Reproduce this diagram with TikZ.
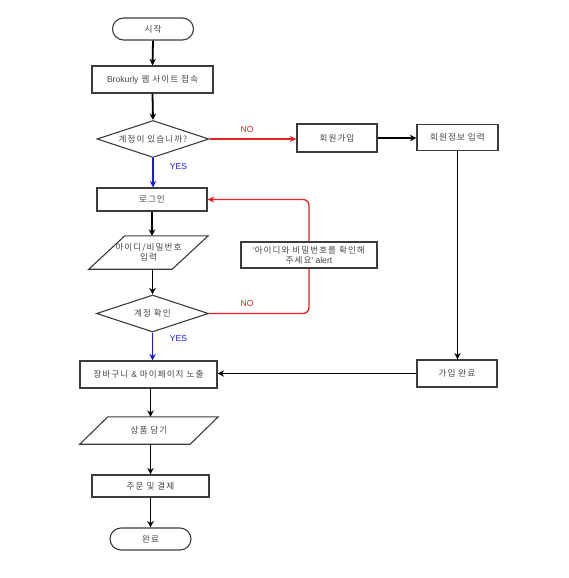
\documentclass[tikz,border=0pt]{standalone}
\usepackage{fontspec}
\newfontfamily\krfont{Noto Sans CJK KR}[LetterSpace=12]
\newfontfamily\latfont{Liberation Sans}
\usetikzlibrary{shapes.geometric,arrows.meta,backgrounds}
\definecolor{nored}{RGB}{232,32,32}
\definecolor{yesblue}{RGB}{25,25,230}
\definecolor{edgec}{RGB}{60,60,60}
\definecolor{txtc}{RGB}{70,70,70}
\begin{document}
\begin{tikzpicture}[x=1pt,y=-1pt,
  every node/.style={font=\krfont\fontsize{8.6}{9.5}\selectfont, text=txtc, align=center},
  procbox/.style={draw=edgec, line width=1.2pt, fill=white, inner sep=0pt},
  termbox/.style={draw=edgec, line width=1.1pt, fill=white, inner sep=0pt, minimum width=81pt, minimum height=22pt, rounded corners=11pt},
  decbox/.style={draw=edgec, line width=1.1pt, fill=white, diamond, aspect=3, inner sep=0pt, minimum width=112pt, minimum height=37pt},
  iobox/.style={inner sep=0pt},
  arr/.style={draw=black, line width=1.8pt, -{Stealth[length=6.5pt,width=6.5pt]}},
  yesarr/.style={draw=yesblue, line width=1.8pt, -{Stealth[length=6.5pt,width=6.5pt]}},
  noarr/.style={draw=nored, line width=1.3pt, -{Stealth[length=6.5pt,width=6pt]}},
  nolab/.style={text=nored, font=\latfont\fontsize{8.6}{9.5}\selectfont},
  yeslab/.style={text=yesblue, font=\latfont\fontsize{8.6}{9.5}\selectfont}
]
\useasboundingbox (0,0) rectangle (568,578);

% left column
\node[termbox] (start) at (153,29) {시작};
\node[procbox, minimum width=121pt, minimum height=27pt] (web) at (152.5,79.5) {{\latfont Brokurly} 웹 사이트 접속};
\node[decbox] (d1) at (153,139) {계정이 있습니까?};
\node[procbox, minimum width=110pt, minimum height=23pt] (login) at (152,199.5) {로그인};
\node[iobox, minimum width=83pt, minimum height=33pt] (p1) at (148.5,252.5) {아이디/비밀번호\\입력};
\draw[draw=edgec, line width=1.1pt] ([xshift=18pt]p1.north west) -- ([xshift=18pt]p1.north east)
  -- ([xshift=-18pt]p1.south east) -- ([xshift=-18pt]p1.south west) -- cycle;
\node[decbox] (d2) at (152.5,313.5) {계정 확인};
\node[procbox, minimum width=137pt, minimum height=27pt] (cart) at (148.5,374.5) {장바구니 {\latfont\&} 마이페이지 노출};
\node[iobox, minimum width=110pt, minimum height=27pt] (p2) at (149,430.5) {상품 담기};
\draw[draw=edgec, line width=1.1pt] ([xshift=14pt]p2.north west) -- ([xshift=14pt]p2.north east)
  -- ([xshift=-14pt]p2.south east) -- ([xshift=-14pt]p2.south west) -- cycle;
\node[procbox, minimum width=117pt, minimum height=22pt] (order) at (150.5,486) {주문 및 결제};
\node[termbox] (end) at (150.5,539) {완료};

% right column
\node[procbox, minimum width=80pt, minimum height=28pt] (signup) at (337,138) {회원가입};
\node[procbox, minimum width=81pt, minimum height=26pt] (info) at (457.5,137.5) {회원정보 입력};
\node[procbox, minimum width=80pt, minimum height=27pt] (done) at (457,373.5) {가입 완료};
\node[procbox, minimum width=136pt, minimum height=26pt] (alert) at (309,255) {{\latfont'}아이디와 비밀번호를 확인해\\주세요{\latfont' alert}};

% connectors
\draw[arr] (start.south) -- (web.north);
\draw[arr] (web.south) -- (d1.north);
\draw[yesarr] (d1.south) -- (d1.south |- login.north);
\draw[arr] (login.south) -- (login.south |- p1.north);
\draw[arr] (d2.north |- p1.south) -- (d2.north);
\draw[yesarr] (d2.south) -- (d2.south |- cart.north);
\draw[arr] (cart.south -| order.north) -- (p2.north -| order.north);
\draw[arr] (p2.south -| order.north) -- (order.north);
\draw[arr] (order.south) -- (end.north);

\draw[noarr] (d1.east) -- (d1.east -| signup.west);
\draw[arr, line width=1.3pt] (signup.east) -- (signup.east -| info.west);
\draw[arr] (info.south) -- (info.south |- done.north);
\draw[arr] (done.west) -- (done.west -| cart.east);
\begin{scope}[on background layer]
\draw[noarr, rounded corners=6pt] (d2.east) -- (d2.east -| alert.center) -- (login.east -| alert.center) -- (login.east);
\end{scope}

% labels
\node[nolab] (no1) at (247,129.5) {NO};
\node[yeslab] (yes1) at (178.5,167) {YES};
\node[nolab] (no2) at (247,304) {NO};
\node[yeslab] (yes2) at (178.5,339) {YES};
\end{tikzpicture}
\end{document}
